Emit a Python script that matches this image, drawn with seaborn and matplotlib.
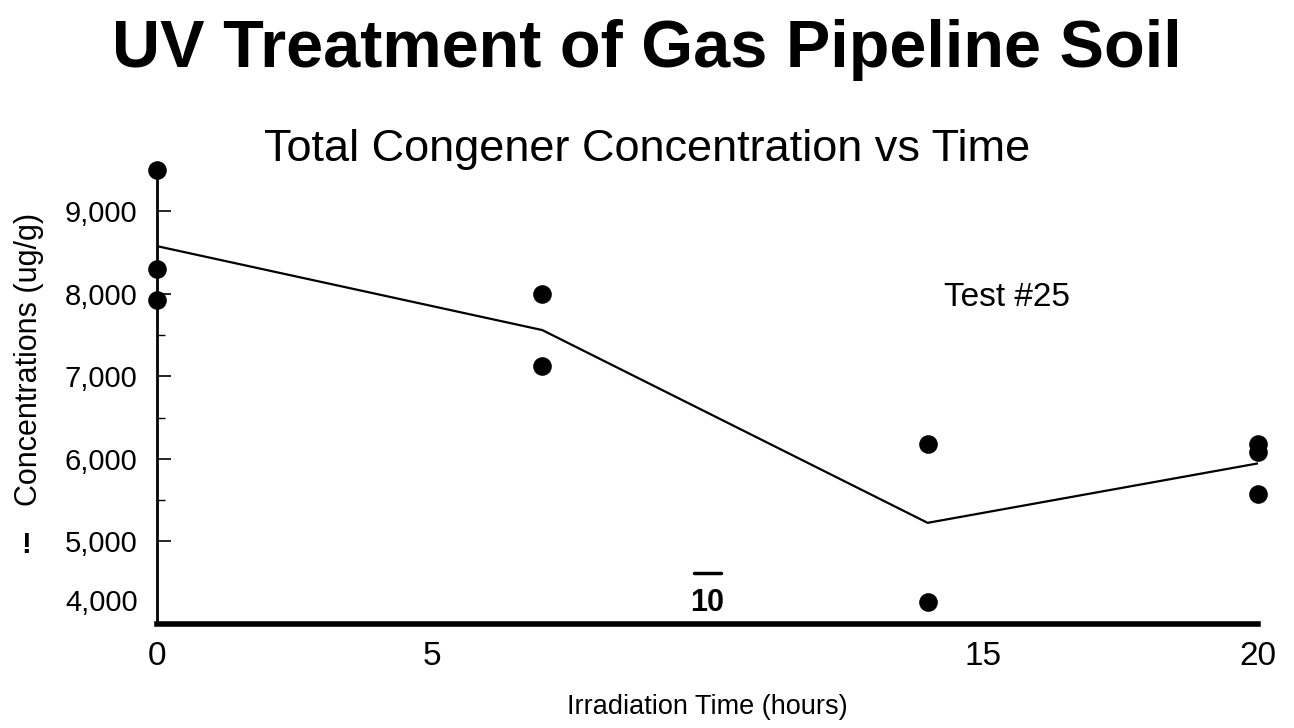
import numpy as np
import pandas as pd
import matplotlib
matplotlib.use("Agg")
import matplotlib.pyplot as plt
import seaborn as sns

# Data
hours = [0, 0, 0, 7, 7, 14, 14, 20, 20, 20]
conc = [9500, 8300, 7930, 8000, 7120, 6180, 4270, 6180, 6085, 5570]

xticks = [0, 5, 15, 20]
yticks = [4000, 5000, 6000, 7000, 8000, 9000]
ylabels = ["4,000", "5,000", "6,000", "7,000", "8,000", "9,000"]

df = pd.DataFrame({"hours": hours, "conc": conc})

sns.set_theme(style="white")
plt.rcParams["font.family"] = ["Liberation Sans", "DejaVu Sans"]
plt.rcParams["text.color"] = "black"
plt.rcParams["axes.labelcolor"] = "black"
plt.rcParams["xtick.color"] = "black"
plt.rcParams["ytick.color"] = "black"

fig = plt.figure(figsize=(12.94, 7.28), dpi=100)
ax = fig.add_axes([0.1213, 0.1429, 0.8508, 0.6305])

# line through the mean at each time
sns.lineplot(data=df, x="hours", y="conc", estimator="mean", errorbar=None,
             color="black", linewidth=1.6, ax=ax)
sns.scatterplot(data=df, x="hours", y="conc", color="black", s=180,
                edgecolor="black", linewidth=0, ax=ax, clip_on=False, zorder=5)

ax.set_xlim(0, 20)
ax.set_ylim(4000, 9560)
ax.set_xticks(xticks)
ax.set_xticklabels([str(t) for t in xticks], fontsize=24)
ax.set_yticks(yticks)
# the 4,000 label sits a bit above the axis line in the scan
ax.set_yticklabels([""] + ylabels[1:], fontsize=21)
ax.annotate(ylabels[0], xy=(0, yticks[0]), xytext=(-14, 15),
            textcoords="offset points", ha="right", va="center", fontsize=21)
ax.set_yticks([5500, 6500, 7500], minor=True)

ax.tick_params(axis="y", which="major", direction="in", length=10, width=1.2,
               left=True, pad=14)
ax.tick_params(axis="y", which="minor", direction="in", length=6, width=1.0, left=True)
ax.tick_params(axis="x", length=0, pad=12)

for s in ["top", "right"]:
    ax.spines[s].set_visible(False)
ax.spines["left"].set_linewidth(2)
ax.spines["bottom"].set_linewidth(4)
ax.spines["left"].set_color("black")
ax.spines["bottom"].set_color("black")

ax.set_xlabel("Irradiation Time (hours)", fontsize=19.5, labelpad=16)
ax.set_ylabel("Concentrations (ug/g)", fontsize=22)
ax.yaxis.set_label_coords(-0.103, 0.577)

# stray marks from the scan
ax.text(10, 4250, "10", fontsize=22, fontweight="bold", ha="center", va="center")
ax.plot([9.75, 10.25], [4620, 4620], color="black", linewidth=2.5)
ax.text(14.3, 7950, "Test #25", fontsize=24, ha="left", va="center")
fig.text(0.02, 0.252, "!", fontsize=21, fontweight="heavy", ha="center", va="center")

fig.text(0.5, 0.932, "UV Treatment of Gas Pipeline Soil", fontsize=48,
         fontweight="bold", ha="center", va="center")
fig.text(0.5, 0.795, "Total Congener Concentration vs Time", fontsize=32.5,
         ha="center", va="center")

fig.savefig("out.png", dpi=100)
